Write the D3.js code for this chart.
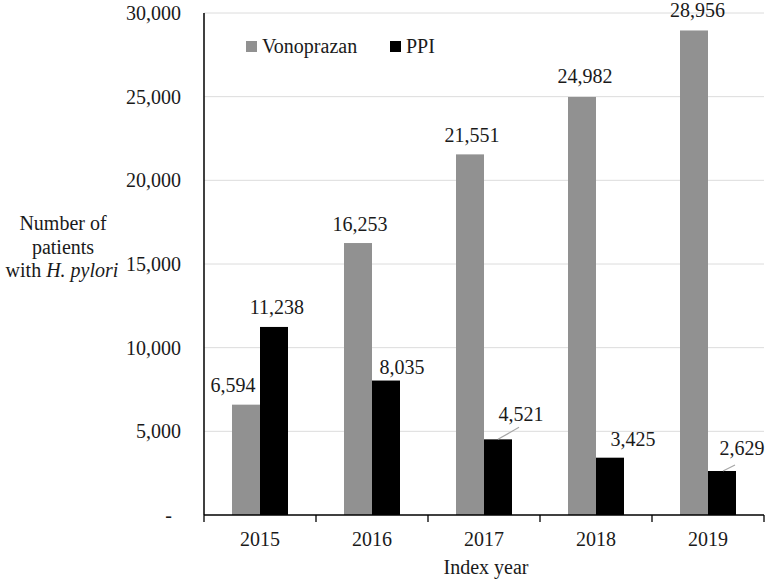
<!DOCTYPE html>
<html>
<head>
<meta charset="utf-8">
<script src="https://cdn.jsdelivr.net/npm/d3@7"></script>
<style>
  html, body { margin: 0; padding: 0; background: #fff; }
  svg { display: block; }
</style>
</head>
<body>
<svg id="chart" width="770" height="585"></svg>
<script>
// ---- data ----
const years = ["2015", "2016", "2017", "2018", "2019"];
const seriesNames = ["Vonoprazan", "PPI"];
const vonoprazan = [6594, 16253, 21551, 24982, 28956];
const ppi = [11238, 8035, 4521, 3425, 2629];
const yTicks = [0, 5000, 10000, 15000, 20000, 25000, 30000];

// ---- layout / style (not data) ----
const FONT = "Liberation Serif";
const colors = { Vonoprazan: "#919191", PPI: "#000000" };
// label offsets (dx, dy from bar top centre) to mimic manual label placement
const labelOffsets = {
  Vonoprazan: [[-13, -13], [2, -12], [2, -12.5], [3, -14], [3.5, -13]],
  PPI: [[3, -12.5], [16, -7], [23, -18.5], [23, -11.5], [20, -16]]
};
const leaderLines = { PPI: [null, null, [0, 0, 21, -12], null, [1, 0, 13, -6]] };

const svg = d3.select("#chart").style("font-family", FONT);
const plot = { left: 204, right: 764, top: 13, bottom: 515 };

const x = d3.scaleBand().domain(years).range([plot.left, plot.right]).padding(0);
const xs = d3.scaleBand().domain(seriesNames)
  .range([x.bandwidth() * 0.25, x.bandwidth() * 0.75]).padding(0);
const y = d3.scaleLinear().domain([0, 30000]).range([plot.bottom, plot.top]);

const fmt = d3.format(",");

function txt(sel) {
  return sel.style("font-family", FONT).attr("font-size", 20).attr("fill", "#1a1a1a");
}

// gridlines
svg.append("g").selectAll("line")
  .data(yTicks.filter(d => d > 0))
  .join("line")
  .attr("x1", plot.left).attr("x2", plot.right)
  .attr("y1", d => y(d)).attr("y2", d => y(d))
  .attr("stroke", "#dcdcdc").attr("stroke-width", 1);

// y tick labels
txt(svg.append("g").selectAll("text")
  .data(yTicks)
  .join("text")
  .attr("x", d => d === 0 ? 172 : 181)
  .attr("y", d => y(d))
  .attr("dy", "0.35em")
  .attr("text-anchor", "end"))
  .text(d => d === 0 ? "-" : fmt(d));

// bars
const seriesData = { Vonoprazan: vonoprazan, PPI: ppi };
seriesNames.forEach(s => {
  const g = svg.append("g");
  g.selectAll("rect")
    .data(seriesData[s].map((v, i) => ({ year: years[i], v, i })))
    .join("rect")
    .attr("x", d => x(d.year) + xs(s))
    .attr("width", xs.bandwidth())
    .attr("y", d => y(d.v))
    .attr("height", d => y(0) - y(d.v))
    .attr("fill", colors[s]);

  // leader lines
  if (leaderLines[s]) {
    leaderLines[s].forEach((l, i) => {
      if (!l) return;
      const cx = x(years[i]) + xs(s) + xs.bandwidth() / 2;
      const ty = y(seriesData[s][i]);
      g.append("line")
        .attr("x1", cx + l[0]).attr("y1", ty + l[1])
        .attr("x2", cx + l[2]).attr("y2", ty + l[3])
        .attr("stroke", "#a6a6a6").attr("stroke-width", 1.2);
    });
  }

  // value labels
  txt(g.selectAll("text")
    .data(seriesData[s].map((v, i) => ({ year: years[i], v, i })))
    .join("text")
    .attr("x", d => x(d.year) + xs(s) + xs.bandwidth() / 2 + labelOffsets[s][d.i][0])
    .attr("y", d => y(d.v) + labelOffsets[s][d.i][1])
    .attr("text-anchor", "middle"))
    .text(d => fmt(d.v));
});

// y axis line
svg.append("line")
  .attr("x1", plot.left).attr("x2", plot.left)
  .attr("y1", plot.top).attr("y2", plot.bottom)
  .attr("stroke", "#000").attr("stroke-width", 1.5);

// x axis line
svg.append("line")
  .attr("x1", plot.left).attr("x2", plot.right)
  .attr("y1", plot.bottom).attr("y2", plot.bottom)
  .attr("stroke", "#000").attr("stroke-width", 1.5);

// x ticks at band boundaries
const tickPos = years.map(d => x(d)).concat([x(years[years.length - 1]) + x.bandwidth()]);
svg.append("g").selectAll("line")
  .data(tickPos)
  .join("line")
  .attr("x1", d => d).attr("x2", d => d)
  .attr("y1", plot.bottom).attr("y2", plot.bottom + 7)
  .attr("stroke", "#000").attr("stroke-width", 1.3);

// x tick labels
txt(svg.append("g").selectAll("text")
  .data(years)
  .join("text")
  .attr("x", d => x(d) + x.bandwidth() / 2)
  .attr("y", 546)
  .attr("text-anchor", "middle"))
  .text(d => d);

// x axis title
txt(svg.append("text")
  .attr("x", (plot.left + plot.right) / 2 + 2)
  .attr("y", 574)
  .attr("text-anchor", "middle"))
  .text("Index year");

// y axis title (three lines)
const yt = txt(svg.append("text").attr("text-anchor", "middle"));
yt.append("tspan").attr("x", 63).attr("y", 230).text("Number of");
yt.append("tspan").attr("x", 63).attr("y", 253.5).text("patients");
const l3 = yt.append("tspan").attr("x", 62).attr("y", 277);
l3.append("tspan").text("with ");
l3.append("tspan").attr("font-style", "italic").text("H. pylori");

// legend
const legendPos = { Vonoprazan: 246, PPI: 390 };
seriesNames.forEach(s => {
  svg.append("rect")
    .attr("x", legendPos[s]).attr("y", 41)
    .attr("width", 11).attr("height", 11)
    .attr("fill", colors[s]);
  txt(svg.append("text")
    .attr("x", legendPos[s] + 16).attr("y", 53))
    .text(s);
});
</script>
</body>
</html>
